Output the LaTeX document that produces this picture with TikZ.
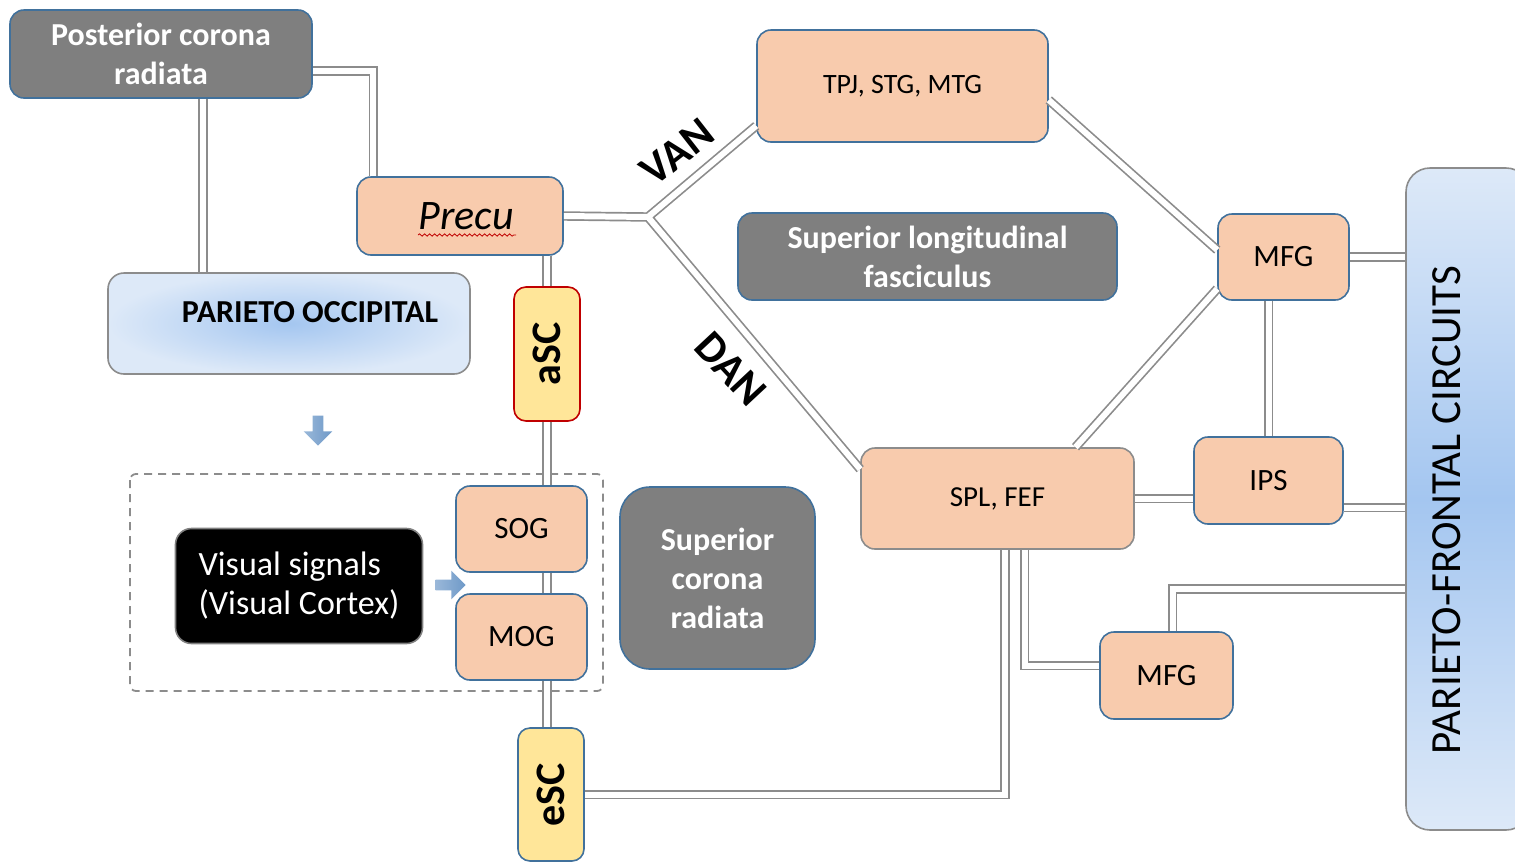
\documentclass[tikz,border=0pt]{standalone}
\usepackage{graphicx}
\usepackage{fontspec}
\setmainfont{Carlito}
\usetikzlibrary{calc,shapes.arrows,decorations.pathmorphing}

\definecolor{boxgray}{HTML}{7F7F7F}
\definecolor{edgeblue}{HTML}{41719C}
\definecolor{peach}{HTML}{F8CBAD}
\definecolor{sand}{HTML}{FFE699}
\definecolor{redline}{HTML}{C00000}
\definecolor{wiregray}{HTML}{8C8C8C}
\definecolor{skylight}{HTML}{DDE9F8}
\definecolor{skymid}{HTML}{A4C6F0}
\definecolor{arrowblue}{HTML}{6E99C8}

\tikzset{
  wire/.style={draw=wiregray, line width=0.85pt, double=white, double distance=3pt},
  graybox/.style={draw=edgeblue, line width=0.8pt, fill=boxgray, rounded corners=7pt, text=white,
    font=\bfseries\fontsize{16}{19.5}\selectfont, align=center, inner sep=0pt},
  region/.style={draw=edgeblue, line width=0.8pt, fill=peach, rounded corners=7pt,
    font=\fontsize{15.5}{19}\selectfont, inner sep=0pt},
  relay/.style={fill=sand, line width=0.8pt, rounded corners=6pt,
    font=\bfseries\fontsize{21}{24}\selectfont, inner sep=0pt},
  flowarrow/.style={single arrow, left color=arrowblue!70, right color=arrowblue, inner xsep=0pt, inner ysep=2.5pt,
    single arrow head extend=4.5pt, minimum height=15pt},
  groupline/.style={draw=wiregray, line width=0.9pt, dash pattern=on 4pt off 3pt, rounded corners=3pt},
}

\begin{document}
\begin{tikzpicture}[x=0.5pt,y=0.5pt,yscale=-1]
\useasboundingbox (0,0) rectangle (1515,863);

%Shape: Posterior corona radiata
\node[graybox, minimum width=151pt, minimum height=44pt] (pcr) at (161,54) {Posterior corona\\radiata};
%Shape: Precu
\node[region, minimum width=103pt, minimum height=39pt, font=\itshape\fontsize{21}{24}\selectfont] (precu) at (460,216) {\hspace{6pt}Precu};
\draw[redline, line width=0.4pt, decorate, decoration={snake, amplitude=0.6pt, segment length=2.5pt}] ($(precu.center)+(-42,19)$) -- ++(98,0);
%Shape: Parieto occipital
\node[draw=wiregray, line width=0.8pt, rounded corners=8pt, inner color=skymid, outer color=skylight,
  minimum width=181pt, minimum height=50.5pt] (po) at (289,323.5) {};
\node[font=\bfseries\fontsize{16}{19}\selectfont] (poText) at (310,312) {PARIETO OCCIPITAL};
%Shape: aSC
\node[relay, draw=redline, minimum width=33pt, minimum height=67pt] (asc) at (547,354) {\rotatebox{90}{aSC}};
%Block Arrow down
\node[flowarrow, rotate=-90] (downArrow) at (318,428) {};

%Shape: dashed group
\draw[groupline] (130,474) rectangle (603,691);
%Shape: Visual signals
\node[draw=gray, fill=black, line width=0.8pt, rounded corners=8pt, text=white, align=left,
  font=\fontsize{17}{19.5}\selectfont, minimum width=123.5pt, minimum height=57.5pt] (vis) at (299,586) {Visual signals\\(Visual Cortex)};
%Block Arrow right
\node[flowarrow] (rightArrow) at (448,585) {};
%Shape: SOG, MOG
\node[region, minimum width=65.5pt, minimum height=43pt] (sog) at (521.5,529) {SOG};
\node[region, minimum width=65.5pt, minimum height=43pt] (mog) at (521.5,637) {MOG};
%Shape: eSC
\node[relay, draw=edgeblue, minimum width=33pt, minimum height=66.5pt] (esc) at (551,794.5) {\rotatebox{90}{eSC}};
%Shape: Superior corona radiata
\node[graybox, rounded corners=15pt, minimum width=97.5pt, minimum height=91pt] (scr) at (717.5,578) {Superior\\corona\\radiata};

%Shape: TPJ
\node[region, minimum width=145.5pt, minimum height=56pt, font=\fontsize{14}{17}\selectfont] (tpj) at (902.5,86) {TPJ, STG, MTG};
%Shape: Superior longitudinal fasciculus
\node[graybox, minimum width=189.5pt, minimum height=43.5pt] (slf) at (927.5,256.5) {Superior longitudinal\\fasciculus};
%Shape: MFG, SPL, IPS
\node[region, minimum width=65.5pt, minimum height=43pt] (mfgA) at (1283.5,257) {MFG};
\node[region, draw=wiregray, minimum width=136.5pt, minimum height=50.5pt, font=\fontsize{14.5}{17}\selectfont] (spl) at (997.5,498.5) {SPL, FEF};
\node[region, minimum width=74.5pt, minimum height=43.5pt] (ips) at (1268.5,480.5) {IPS};
\node[region, minimum width=66.5pt, minimum height=43.5pt] (mfgB) at (1166.5,675.5) {MFG};
%Shape: Parieto-frontal circuits
\node[draw=wiregray, line width=0.8pt, rounded corners=12pt, top color=skylight, bottom color=skylight,
  middle color=skymid, minimum width=62pt, minimum height=331pt] (pfc) at (1468,499) {};
\node[font=\fontsize{21.5}{24}\selectfont] (pfcText) at (1447,510) {\rotatebox{90}{PARIETO-FRONTAL CIRCUITS}};

%Labels
\node[font=\bfseries\fontsize{22}{24}\selectfont, rotate=38, inner sep=0pt] (van) at (677,152) {VAN};
\node[font=\bfseries\fontsize{22}{24}\selectfont, rotate=-47, inner sep=0pt] (dan) at (731,369) {DAN};

%Double Lines
\coordinate (junc) at (648,217);
\draw[wire] ($(pcr.east)+(0,17)$) -| ($(precu.north west)+(17,0)$);
\draw[wire] ($(pcr.south)+(42,0)$) coordinate (t) -- (t |- po.north);
\draw[wire] (precu.east) -- (junc) -- ($(tpj.south west)+(0,-17)$) (junc) -- ($(spl.north west)+(0,22)$);
\draw[wire] (asc.north |- precu.south) -- (asc.north);
\draw[wire] (asc.south) -- (asc.south |- sog.north);
\draw[wire] (asc.south |- sog.south) -- (asc.south |- mog.north);
\draw[wire] (asc.south |- mog.south) -- (asc.south |- esc.north);
\draw[wire] (esc.east) -| ($(spl.south)+(7.5,0)$);
\draw[wire] ($(spl.south)+(27,0)$) |- ($(mfgB.west)+(0,-10)$);
\draw[wire] (spl.east) -- (spl.east -| ips.west);
\draw[wire] (ips.north |- mfgA.south) -- (ips.north);
\draw[wire] ($(tpj.east)+(0,14)$) -- ($(mfgA.west)+(0,-7)$);
\draw[wire] ($(spl.north)+(78,0)$) -- ($(mfgA.south west)+(0,-12)$);
\draw[wire] (mfgA.east) -- (mfgA.east -| pfc.west);
\draw[wire] ($(ips.east)+(0,27)$) coordinate (t) -- (t -| pfc.west);
\draw[wire] ($(mfgB.north)+(6,0)$) |- ($(pfc.west)+(0,90)$);

\end{tikzpicture}
\end{document}
